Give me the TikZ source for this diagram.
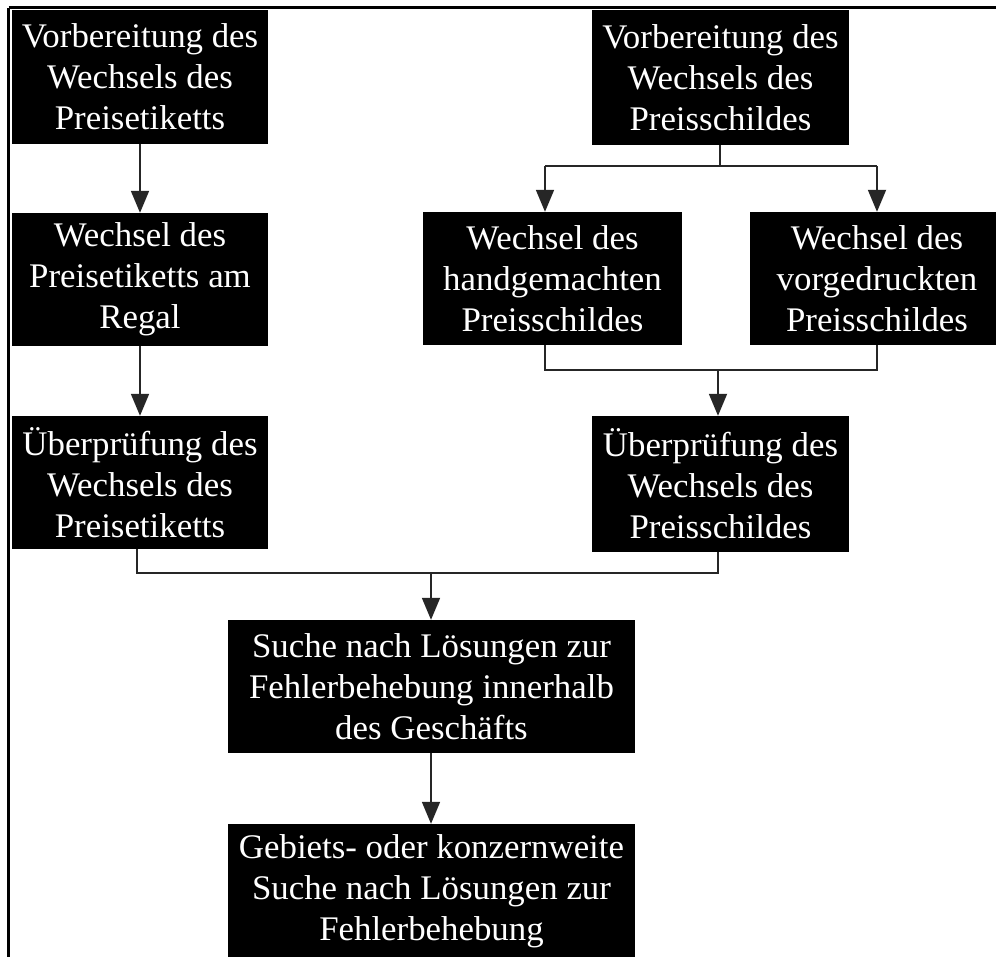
\documentclass[tikz,border=0pt]{standalone}
\usepackage{fontspec}
\setmainfont{Liberation Serif}[FakeStretch=1.01]
\usetikzlibrary{arrows.meta}
\begin{document}
\begin{tikzpicture}[x=1pt,y=-1pt,
  stepbox/.style={fill=black,text=white,align=center,inner sep=0pt,
    font=\fontsize{34.5}{41}\selectfont},
  conn/.style={line width=1.8pt,draw=black!85},
  arr/.style={conn,-{Triangle[width=18pt,length=22pt]}}]
\useasboundingbox (0,0) rectangle (996,956);
\fill[white] (0,0) rectangle (996,956);
% frame
\draw[line width=2.6pt] (8.5,7.5) -- (1000,7.5);
\draw[line width=2.6pt] (8.5,7.5) -- (8.5,960);
% boxes
\node[stepbox,minimum width=256pt,minimum height=134pt] (A) at (140,77) {Vorbereitung des\\Wechsels des\\Preisetiketts};
\node[stepbox,minimum width=257pt,minimum height=135pt] (B) at (720.5,77.5) {Vorbereitung des\\Wechsels des\\Preisschildes};
\node[stepbox,minimum width=256pt,minimum height=133pt] (C) at (140,279.5) {Wechsel des\\Preisetiketts am\\Regal};
\node[stepbox,minimum width=259pt,minimum height=133pt] (D) at (552.5,278.5) {Wechsel des\\handgemachten\\Preisschildes};
\node[stepbox,minimum width=254pt,minimum height=133pt] (E) at (877,278.5) {Wechsel des\\vorgedruckten\\Preisschildes};
\node[stepbox,minimum width=256pt,minimum height=133pt] (F) at (140,482.5) {Überprüfung des\\Wechsels des\\Preisetiketts};
\node[stepbox,minimum width=257pt,minimum height=136pt] (G) at (720.5,484) {Überprüfung des\\Wechsels des\\Preisschildes};
\node[stepbox,minimum width=407pt,minimum height=133pt] (H) at (431.5,686.5) {Suche nach Lösungen zur\\Fehlerbehebung innerhalb\\des Geschäfts};
\node[stepbox,minimum width=407pt,minimum height=134pt] (I) at (431.5,891) {Gebiets- oder konzernweite\\Suche nach Lösungen zur\\Fehlerbehebung};
% junction coordinates
\coordinate (jB) at (720,166);
\coordinate (jBl) at (545,166);
\coordinate (jBr) at (877,166);
\coordinate (jD) at (545,370);
\coordinate (jE) at (877,370);
\coordinate (jDE) at (718,370);
\coordinate (jF) at (137,573);
\coordinate (jG) at (718,573);
\coordinate (jFG) at (431,573);
% connectors
\draw[arr] (A.south) -- (C.north);
\draw[arr] (C.south) -- (F.north);
\draw[conn] (B.south -| jB) -- (jB);
\draw[conn] (jBl) -- (jBr);
\draw[arr] (jBl) -- (D.north -| jBl);
\draw[arr] (jBr) -- (E.north);
\draw[conn] (D.south -| jD) -- (jD) -- (jE) -- (E.south);
\draw[arr] (jDE) -- (G.north -| jDE);
\draw[conn] (F.south -| jF) -- (jF) -- (jG) -- (G.south -| jG);
\draw[arr] (jFG) -- (H.north -| jFG);
\draw[arr] (H.south -| jFG) -- (I.north -| jFG);
\end{tikzpicture}
\end{document}
